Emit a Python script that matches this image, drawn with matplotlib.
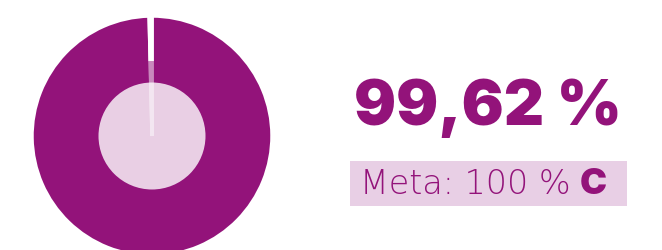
import matplotlib
matplotlib.use("Agg")
import matplotlib.pyplot as plt
from matplotlib.patches import Circle, Rectangle

# data
labels = ["Cumplido", "Faltante"]
values = [99.62, 0.38]
main_text = "99,62 %"
goal_text = "Meta: 100 %"
grade_text = "C"

PURPLE = "#93137a"
BOX = "#e8cfe5"

W, H = 662, 251
fig = plt.figure(figsize=(W / 100, H / 100), dpi=100)

def fx(px):
    return px / W

def fy(py):
    return 1 - py / H

# donut axes: center (152,137), radius 120 px
cx, cy, r = 152, 137, 120
ax = fig.add_axes([fx(cx - r), fy(cy + r), 2 * r / W, 2 * r / H])
ax.axis("off")
ax.pie(values, colors=[PURPLE, "white"], startangle=90, counterclock=False,
       radius=1, wedgeprops=dict(edgecolor="white", linewidth=2.5))
ax.add_patch(Circle((0, 0), 75 / 120, facecolor=PURPLE, alpha=0.5, lw=0))
ax.add_patch(Circle((0, 0), 53.5 / 120, facecolor="white", alpha=0.8, lw=0))
ax.set_xlim(-1, 1)
ax.set_ylim(-1, 1)
ax.set_aspect("equal")

# main value
fig.text(fx(488), fy(108.5), main_text, ha="center", va="center",
         fontsize=45, fontweight="black", family="Inter", color=PURPLE)

# goal box
fig.patches.append(Rectangle((fx(350), fy(207)), fx(627) - fx(350), (207 - 161.7) / H,
                             transform=fig.transFigure, facecolor=BOX, lw=0))
fig.text(fx(360), fy(185), goal_text, ha="left", va="center",
         fontsize=24, fontweight="light", family="DejaVu Sans", color=PURPLE)
fig.text(fx(607), fy(185), grade_text, ha="right", va="center",
         fontsize=26, fontweight="black", family="Inter", color=PURPLE)

fig.savefig("out.png", dpi=100)
